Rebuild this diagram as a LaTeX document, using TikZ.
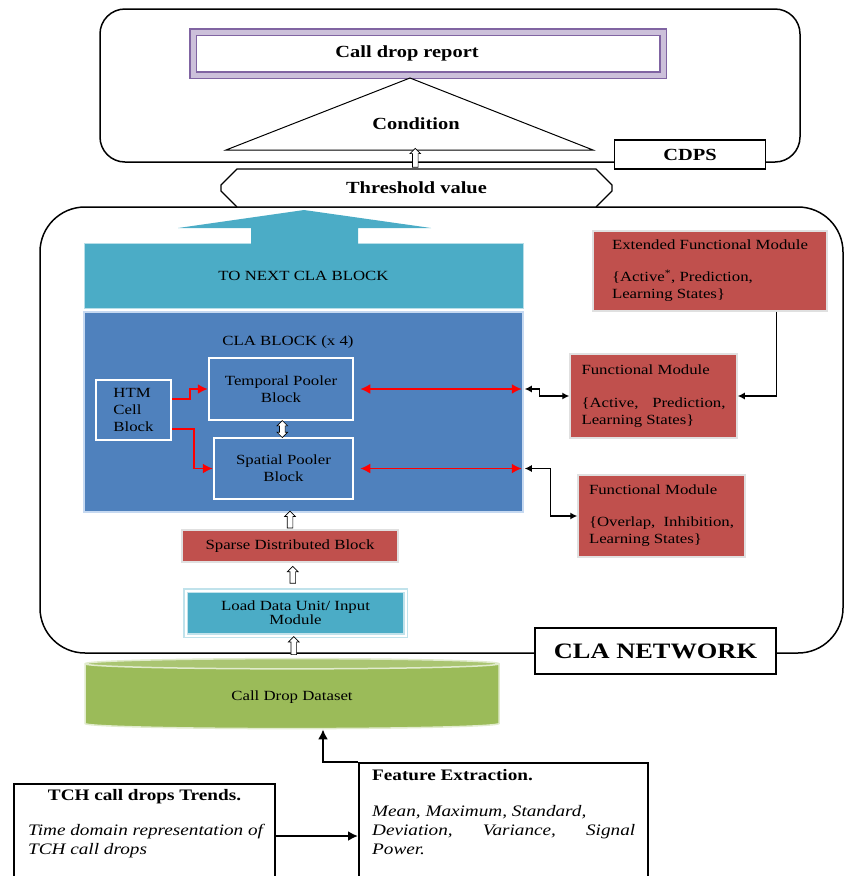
\documentclass[tikz,border=0pt]{standalone}
\usepackage{fontspec}
\setmainfont{Liberation Serif}[FakeStretch=1.2]
\usetikzlibrary{arrows.meta,shapes.geometric,shapes.misc,shapes.arrows,calc}
\definecolor{clacyan}{RGB}{75,172,198}
\definecolor{clablue}{RGB}{79,129,189}
\definecolor{modred}{RGB}{192,80,77}
\definecolor{dsgreen}{RGB}{155,187,89}
\definecolor{rptpurple}{RGB}{128,100,162}
\definecolor{rptlilac}{RGB}{204,192,218}
\definecolor{edgeblue}{RGB}{198,217,241}
\tikzset{
  txt/.style={font=\fontsize{14}{17}\selectfont},
  head/.style={font=\bfseries\fontsize{17}{20}\selectfont},
  roundframe/.style={draw, line width=1.5pt, rounded corners=#1},
  bluebox/.style={txt, fill=clablue, draw=white, line width=2.5pt, inner sep=0pt, align=center},
  redbox/.style={txt, fill=modred, draw=black!12, line width=1.5pt, align=left, inner sep=0pt},
  uparr/.style={single arrow, shape border rotate=90, draw, fill=white, line width=0.7pt,
    inner sep=2.5pt, single arrow head extend=2.5pt, minimum width=0pt},
  redarr/.style={red, line width=1.8pt, -{Latex[length=10pt,width=10pt]}},
  redboth/.style={red, line width=1.8pt, {Latex[length=10pt,width=10pt]}-{Latex[length=10pt,width=10pt]}},
  blkarr/.style={line width=1.2pt, -{Latex[length=7pt,width=7pt]}},
  blkboth/.style={line width=1.2pt, {Latex[length=7pt,width=7pt]}-{Latex[length=7pt,width=7pt]}},
  lowbox/.style={draw, line width=2pt, anchor=north west},
}
\begin{document}
\begin{tikzpicture}[x=1pt,y=-1pt]
\path[use as bounding box] (0,0) rectangle (845,876);
\clip (0,0) rectangle (845,876);
% containers
\node[roundframe=25pt, minimum width=700pt, minimum height=153pt] (cdpsbox) at (450,85.5) {};
\node[roundframe=45pt, minimum width=803pt, minimum height=446pt] (clanet) at (441.5,430) {};
% CDPS part
\node[head, draw=rptpurple, double=rptlilac, double distance=5pt, line width=1.2pt,
  minimum width=470pt, minimum height=43pt] (report) at (428,53.5) {Call drop report\hspace{42pt}\mbox{}};
\draw[line width=1pt] (226,150) -- (410,78) -- (593,150) -- cycle;
\coordinate (base) at (414,150);
\node[head] (cond) at (416,124) {Condition};
\node[head, draw, fill=white, line width=1.5pt, minimum width=151pt, minimum height=29pt] (cdps) at (690,154.5) {CDPS};
\node[head, chamfered rectangle, chamfered rectangle xsep=8pt, chamfered rectangle ysep=8pt,
  draw, fill=white, line width=1.2pt, minimum width=391pt, minimum height=38pt] (thr) at (416.5,188) {Threshold value};
\node[uparr, minimum height=19pt] (a1) at ($(thr.north)!.5!(base)$) {};
% CLA blocks
\node[txt, fill=clacyan, draw=clacyan!40, line width=1pt, minimum width=439pt, minimum height=65pt] (next) at (303.5,275.5) {TO NEXT CLA BLOCK};
\fill[clacyan] (251,244) -- (251,228) -- (178,228) -- (304,210) -- (431,228) -- (358,228) -- (358,244) -- cycle;
\node[fill=clablue, draw=edgeblue, line width=1.5pt, minimum width=439pt, minimum height=200pt] (cla) at (303.5,412) {};
\node[txt] (clatitle) at (288,342) {CLA BLOCK (x 4)};
\node[bluebox, align=left, minimum width=75pt, minimum height=60pt] (htm) at (133.5,410) {HTM\\Cell\\Block};
\node[bluebox, minimum width=144pt, minimum height=62pt] (temp) at (281,389) {Temporal Pooler\\Block};
\node[bluebox, minimum width=139pt, minimum height=61pt] (spat) at (283.5,468.5) {Spatial Pooler\\Block};
\node[double arrow, shape border rotate=90, draw, fill=white, line width=0.7pt, inner sep=2.5pt,
  double arrow head extend=2.5pt, minimum width=0pt, minimum height=17pt] (a2) at ($(temp.south)!.5!(spat.north)$) {};
\draw[redarr] ([yshift=11pt]htm.east) -- ++(18,0) |- (temp.west);
\draw[redarr] ([yshift=-19pt]htm.east) -- ++(22,0) |- (spat.west);
\draw[redboth] ([xshift=6pt]temp.east) -- ([xshift=-2pt]temp.east -| cla.east);
\draw[redboth] ([xshift=6pt]spat.east) -- ([xshift=-2pt]spat.east -| cla.east);
% modules
\node[redbox, minimum width=234pt, minimum height=80pt] (efm) at (710,271)
  {Extended Functional Module\\[15pt]\{Active\textsuperscript{*}, Prediction,\\Learning States\}};
\node[redbox, minimum width=167pt, minimum height=84pt] (fm1) at (653.5,396)
  {Functional Module\\[16pt]\makebox[144pt][s]{\{Active, Prediction,}\\Learning States\}};
\node[redbox, minimum width=167pt, minimum height=82pt] (fm2) at (661.5,516)
  {Functional Module\\[15pt]\makebox[145pt][s]{\{Overlap, Inhibition,}\\Learning States\}};
\draw[blkboth] ([xshift=1pt]temp.east -| cla.east) -- ++(15,0) |- (fm1.west);
\draw[blkboth] ([xshift=1pt]spat.east -| cla.east) -- ++(26,0) |- (fm2.west);
\draw[blkarr] ([xshift=-51pt]efm.south east) |- (fm1.east);
% input side
\node[redbox, align=center, minimum width=216pt, minimum height=32pt] (sparse) at (290,546) {Sparse Distributed Block};
\node[uparr, minimum height=17pt] (a3) at ($(sparse.north)!.5!(sparse.north |- cla.south)$) {};
\node[fill=clacyan, draw=clacyan!35, double=white, double distance=2pt, line width=1.5pt,
  minimum width=220pt, minimum height=45pt, align=center, font=\fontsize{14}{14}\selectfont] (load) at (295.5,613) {Load Data Unit/ Input\\Module};
\node[uparr, minimum height=17pt] (a4) at ($(sparse.south)!.5!(load.north)$) {};
\node[cylinder, shape border rotate=90, aspect=0.08, cylinder uses custom fill,
  cylinder body fill=dsgreen, cylinder end fill=dsgreen!85!white, draw=white!70!dsgreen, line width=1.5pt,
  minimum width=414pt, minimum height=70pt, txt] (data) at (292,697) {Call Drop Dataset};
\node[uparr, minimum height=18pt] (a5) at ($(data.north)!.5!(load.south)$) {};
\node[draw, fill=white, line width=2pt, minimum width=241pt, minimum height=46pt,
  font=\bfseries\fontsize{22}{26}\selectfont] (clanetlbl) at (655.5,651) {CLA NETWORK};
% feature boxes
\node[lowbox, minimum width=289pt, minimum height=125pt] (fe) at (358,762) {};
\node[anchor=north west, inner sep=0pt, align=left, font=\fontsize{16}{19}\selectfont] (fetext) at ([shift={(14pt,-7pt)}]fe.north west)
  {\textbf{Feature Extraction.}\\[17pt]\textit{Mean, Maximum, Standard,}\\\makebox[263pt][s]{\itshape Deviation, Variance, Signal}\\\textit{Power.}};
\node[lowbox, minimum width=261pt, minimum height=104pt] (tch) at (13,783) {};
\node[anchor=north, inner sep=0pt, font=\bfseries\fontsize{16}{19}\selectfont] (tchtitle) at ([yshift=-6pt]tch.north) {TCH call drops Trends.};
\node[anchor=north west, inner sep=0pt, align=left, font=\itshape\fontsize{16}{19}\selectfont] (tchtext) at ([shift={(15pt,-41pt)}]tch.north west)
  {Time domain representation of\\TCH call drops};
\draw[line width=2.5pt, -{Latex[length=10pt,width=10pt]}] (tch.east) -- (tch.east -| fe.west);
\draw[line width=2.5pt, -{Latex[length=10pt,width=10pt]}] (fe.north west) -| ([xshift=31pt]data.south);
\end{tikzpicture}
\end{document}
